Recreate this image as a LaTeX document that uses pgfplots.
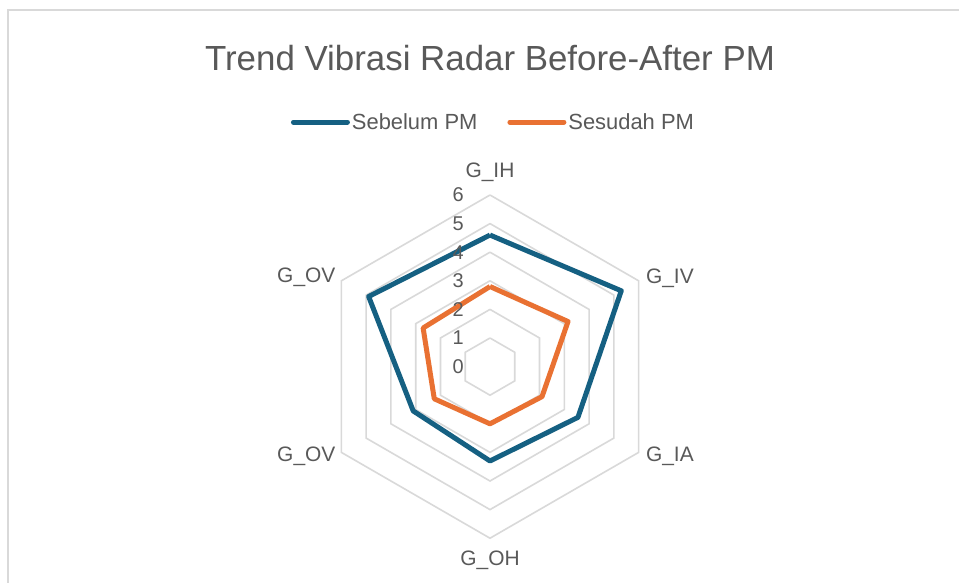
\documentclass[border=0pt]{standalone}
\usepackage{pgfplots}
\pgfplotsset{compat=1.18}
\usepackage{fontspec}
\setmainfont{Liberation Sans}
\definecolor{sebelum}{HTML}{156082}
\definecolor{sesudah}{HTML}{E97132}
\definecolor{gridc}{HTML}{D9D9D9}
\definecolor{txt}{HTML}{595959}
\begin{document}
\begin{tikzpicture}
\useasboundingbox (0,0) rectangle (959bp,583bp);
\fill[white] (0,0) rectangle (959bp,583bp);
\draw[gridc, line width=1.5bp] (8bp,0) -- (8bp,573bp) -- (959bp,573bp);
\begin{axis}[
  at={(0,0)}, anchor=south west,
  width=959bp, height=583bp, scale only axis,
  xmin=-17.133, xmax=16.399, ymin=-7.566, ymax=12.818,
  hide axis, clip=false,
  legend columns=2,
  legend style={at={(axis cs:0.12,8.55)}, anchor=center, draw=none, fill=none,
    font=\fontsize{22}{26}\selectfont\color{txt},
    nodes={inner sep=2bp},
    /tikz/every even column/.append style={column sep=28bp}},
  legend image code/.code={\draw[#1, line width=5bp, line cap=round] (0bp,0bp) -- (54bp,0bp);},
]
% grid hexagons
\addplot[gridc, line width=1.6bp, data cs=polar, forget plot] coordinates {(90,1) (30,1) (-30,1) (-90,1) (-150,1) (150,1) (90,1)};
\addplot[gridc, line width=1.6bp, data cs=polar, forget plot] coordinates {(90,2) (30,2) (-30,2) (-90,2) (-150,2) (150,2) (90,2)};
\addplot[gridc, line width=1.6bp, data cs=polar, forget plot] coordinates {(90,3) (30,3) (-30,3) (-90,3) (-150,3) (150,3) (90,3)};
\addplot[gridc, line width=1.6bp, data cs=polar, forget plot] coordinates {(90,4) (30,4) (-30,4) (-90,4) (-150,4) (150,4) (90,4)};
\addplot[gridc, line width=1.6bp, data cs=polar, forget plot] coordinates {(90,5) (30,5) (-30,5) (-90,5) (-150,5) (150,5) (90,5)};
\addplot[gridc, line width=1.6bp, data cs=polar, forget plot] coordinates {(90,6) (30,6) (-30,6) (-90,6) (-150,6) (150,6) (90,6)};
% data
\addplot[sebelum, line width=5bp, line join=round, data cs=polar] coordinates {
  (90,4.6) (30,5.3) (-30,3.55) (-90,3.3) (-150,3.1) (150,4.9) (90,4.6)};
\addlegendentry{Sebelum PM}
\addplot[sesudah, line width=5bp, line join=round, data cs=polar] coordinates {
  (90,2.8) (30,3.15) (-30,2.1) (-90,2.0) (-150,2.25) (150,2.7) (90,2.8)};
\addlegendentry{Sesudah PM}
% tick labels
\begin{scope}[every node/.style={anchor=east, font=\fontsize{20}{24}\selectfont, text=txt, inner sep=0pt}]
\node at (axis cs:-0.91,0) {0};
\node at (axis cs:-0.91,1) {1};
\node at (axis cs:-0.91,2) {2};
\node at (axis cs:-0.91,3) {3};
\node at (axis cs:-0.91,4) {4};
\node at (axis cs:-0.91,5) {5};
\node at (axis cs:-0.91,6) {6};
\end{scope}
% category labels
\begin{scope}[every node/.style={font=\fontsize{21}{25}\selectfont, text=txt, inner sep=0pt}]
\node[anchor=base] at (axis cs:0,6.62) {G\_IH};
\node[anchor=base west] at (axis cs:5.45,2.91) {G\_IV};
\node[anchor=base west] at (axis cs:5.45,-3.33) {G\_IA};
\node[anchor=base] at (axis cs:0,-6.97) {G\_OH};
\node[anchor=base east] at (axis cs:-5.40,-3.33) {G\_OV};
\node[anchor=base east] at (axis cs:-5.40,2.95) {G\_OV};
\end{scope}
% title
\node[anchor=base, font=\fontsize{35}{42}\selectfont, text=txt] at (axis cs:0,10.37) {Trend Vibrasi Radar Before-After PM};
\end{axis}
\end{tikzpicture}
\end{document}
